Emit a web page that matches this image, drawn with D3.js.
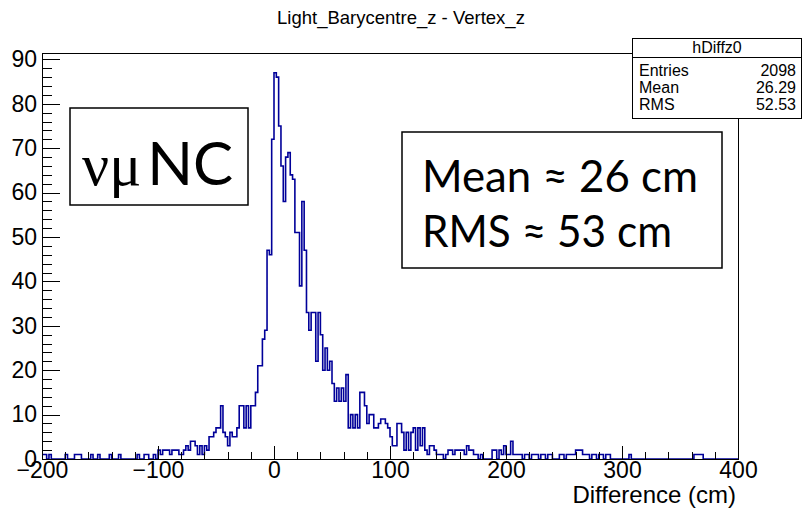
<!DOCTYPE html>
<html>
<head>
<meta charset="utf-8">
<script src="https://d3js.org/d3.v7.min.js"></script>
<style>
	body { margin: 0; background: #fff; }
	svg { display: block; }
	.axis text { font-family: "Liberation Sans", Arial, sans-serif; font-size: 23px; fill: #000; }
	.axis path, .axis line { stroke: #000; stroke-width: 1; shape-rendering: crispEdges; }
</style>
</head>
<body>
<svg width="802" height="509"></svg>
<script>
// histogram: 300 bins of 2 cm from -200 to 400
const xMin = -200;
const xMax = 400;
const binWidth = 2;
const counts = [
	1,1,0,1,0,0,0,0,0,0, 1,0,0,0,1,1,1,0,0,0,
	0,1,0,0,1,0,0,0,0,1, 0,0,0,1,0,0,0,0,0,0,
	0,1,0,0,1,1,0,0,1,0, 2,1,2,2,2,1,2,2,2,1,
	1,2,3,2,4,4,3,1,3,1, 3,2,5,5,6,7,7,12,6,5,
	3,6,5,5,7,12,12,7,12,7, 12,12,15,21,21,27,29,47,46,72,
	87,86,75,66,58,68,69,64,63,51, 51,39,58,47,33,29,33,33,22,33,
	28,20,25,20,22,17,13,16,13,16, 13,19,7,10,7,10,7,15,15,12,
	8,10,10,7,7,8,9,9,8,7, 5,3,3,8,8,6,2,6,2,6,
	7,2,7,3,7,2,1,3,3,2, 1,1,1,0,1,2,2,1,2,2,
	2,2,1,3,2,2,1,1,0,1, 0,0,0,0,2,2,0,2,1,3,
	1,1,4,1,1,1,1,0,1,1, 0,1,1,1,0,1,1,0,1,1,
	0,0,0,1,1,0,1,1,1,1, 2,2,2,1,1,1,0,1,1,0,
	1,1,0,1,1,0,0,0,0,0, 0,0,0,1,0,0,0,0,0,0,
	0,0,0,0,0,0,0,0,0,0, 0,0,0,0,0,0,0,0,0,0,
	0,1,1,1,1,0,0,0,0,0, 0,0,0,0,0,0,0,0,0,0
];

const xMajor = [-200, -100, 0, 100, 200, 300, 400];
const yMajor = [0, 10, 20, 30, 40, 50, 60, 70, 80, 90];

const histTitle = "Light_Barycentre_z - Vertex_z";
const xTitle = "Difference (cm)";
const statsName = "hDiffz0";
const statsRows = [["Entries", "2098"], ["Mean", "26.29"], ["RMS", "52.53"]];
const noteLines = ["Mean \u2248 26 cm", "RMS \u2248 53 cm"];

var svg = d3.select("svg");

var frame = {left: 42, right: 738, top: 53.4, bottom: 459};
var yMax = d3.max(counts) * 1.05;

var x = d3.scaleLinear().domain([xMin, xMax]).range([frame.left, frame.right]);
var y = d3.scaleLinear().domain([0, yMax]).range([frame.bottom, frame.top]);

function fmt(v) {
	return v < 0 ? "\u2212" + Math.abs(v) : String(v);
}

// title
svg.append("text")
	.attr("x", 401)
	.attr("y", 24)
	.attr("text-anchor", "middle")
	.style("font-family", "'Liberation Sans', Arial, sans-serif")
	.style("font-size", "18.5px")
	.text(histTitle);

// histogram outline
var pts = [[xMin, 0]];
counts.forEach(function(c, i) {
	var lo = xMin + i * binWidth;
	pts.push([lo, c]);
	pts.push([lo + binWidth, c]);
});
pts.push([xMax, 0]);

svg.append("clipPath").attr("id", "clip")
	.append("rect")
	.attr("x", frame.left).attr("y", frame.top)
	.attr("width", frame.right - frame.left).attr("height", frame.bottom - frame.top);

svg.append("path")
	.datum(pts)
	.attr("clip-path", "url(#clip)")
	.attr("fill", "none")
	.attr("stroke", "#000099")
	.attr("stroke-width", 1.6)
	.attr("d", d3.line().x(d => x(d[0])).y(d => y(d[1])));

// minor ticks
var xMinor = d3.range(xMin, xMax + 1, 20);
var yMinor = d3.range(0, 91, 2);

svg.append("g")
	.attr("class", "axis")
	.attr("transform", "translate(0," + frame.bottom + ")")
	.call(d3.axisBottom(x).tickValues(xMinor).tickSize(-7).tickFormat(""))
	.call(g => g.select(".domain").remove());

svg.append("g")
	.attr("class", "axis")
	.attr("transform", "translate(" + frame.left + ",0)")
	.call(d3.axisLeft(y).tickValues(yMinor).tickSize(-10).tickFormat(""))
	.call(g => g.select(".domain").remove());

// major ticks + labels
svg.append("g")
	.attr("class", "axis")
	.attr("transform", "translate(0," + frame.bottom + ")")
	.call(d3.axisBottom(x).tickValues(xMajor).tickSize(-13).tickPadding(3).tickFormat(fmt))
	.call(g => g.select(".domain").remove());

svg.append("g")
	.attr("class", "axis")
	.attr("transform", "translate(" + frame.left + ",0)")
	.call(d3.axisLeft(y).tickValues(yMajor).tickSize(-18).tickPadding(5).tickFormat(fmt))
	.call(g => g.select(".domain").remove());

// frame
svg.append("rect")
	.attr("x", frame.left).attr("y", frame.top)
	.attr("width", frame.right - frame.left).attr("height", frame.bottom - frame.top)
	.attr("fill", "none").attr("stroke", "#000").attr("stroke-width", 1)
	.style("shape-rendering", "crispEdges");

svg.append("text")
	.attr("x", 736)
	.attr("y", 503)
	.attr("text-anchor", "end")
	.style("font-family", "'Liberation Sans', Arial, sans-serif")
	.style("font-size", "24px")
	.text(xTitle);

// stats box
var sb = svg.append("g").style("font-family", "'Liberation Sans', Arial, sans-serif").style("font-size", "16px");
sb.append("rect")
	.attr("x", 632.5).attr("y", 38.5).attr("width", 169).attr("height", 80)
	.attr("fill", "#fff").attr("stroke", "#000");
sb.append("line")
	.attr("x1", 632.5).attr("x2", 801.5).attr("y1", 57.5).attr("y2", 57.5)
	.attr("stroke", "#000");
sb.append("text").attr("x", 717).attr("y", 53).attr("text-anchor", "middle").text(statsName);
statsRows.forEach(function(r, i) {
	sb.append("text").attr("x", 639).attr("y", 76 + i * 17).text(r[0]);
	sb.append("text").attr("x", 796).attr("y", 76 + i * 17).attr("text-anchor", "end").text(r[1]);
});

// annotation boxes
svg.append("rect")
	.attr("x", 70).attr("y", 108).attr("width", 178).attr("height", 97)
	.attr("fill", "#fff").attr("stroke", "#000").attr("stroke-width", 1.5);
var nu = svg.append("text").attr("x", 82).attr("y", 185).style("font-size", "60px");
nu.append("tspan").style("font-family", "'Liberation Serif', 'DejaVu Serif', serif").text("\u03bd\u03bc");
nu.append("tspan").attr("dx", 6).style("font-family", "Lato, 'Open Sans', sans-serif").text("NC");

svg.append("rect")
	.attr("x", 402).attr("y", 132).attr("width", 320).attr("height", 136)
	.attr("fill", "#fff").attr("stroke", "#000").attr("stroke-width", 1.5);
var noteLen = [276, 250];
noteLines.forEach(function(t, i) {
	svg.append("text")
		.attr("x", 422)
		.attr("y", 192 + i * 55)
		.attr("textLength", noteLen[i])
		.attr("lengthAdjust", "spacingAndGlyphs")
		.style("font-family", "Lato, 'Open Sans', sans-serif")
		.style("font-size", "44px")
		.text(t);
});
</script>
</body>
</html>
